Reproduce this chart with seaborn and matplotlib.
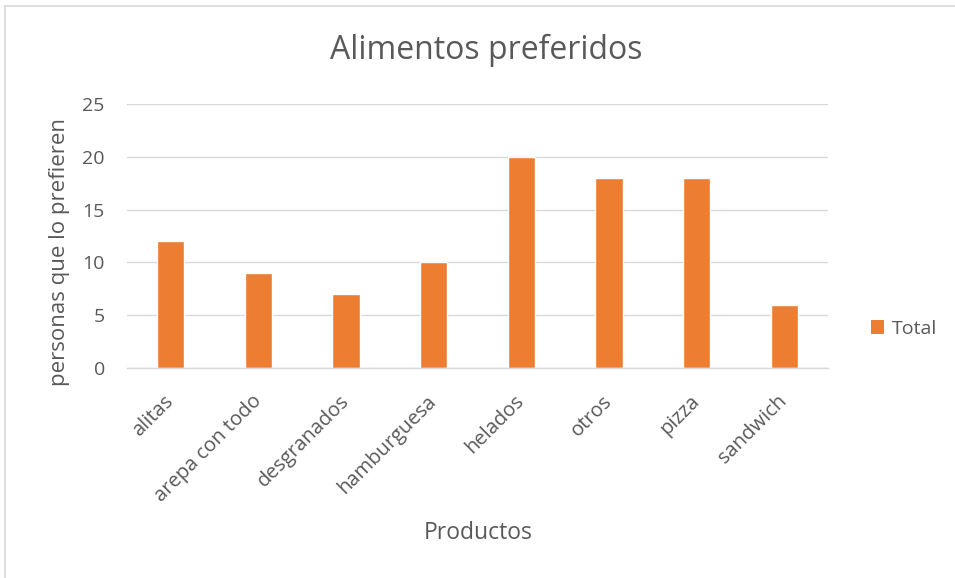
import matplotlib
matplotlib.use("Agg")
import matplotlib.pyplot as plt
import seaborn as sns
import pandas as pd
from matplotlib.patches import Rectangle, Patch

categories = ["alitas", "arepa con todo", "desgranados", "hamburguesa", "helados", "otros", "pizza", "sandwich"]
values = [12, 9, 7, 10, 20, 18, 18, 6]
yticks = [0, 5, 10, 15, 20, 25]

sns.set_theme(style="white")
plt.rcParams['font.family'] = ['Open Sans', 'DejaVu Sans']
txt = "#595959"

df = pd.DataFrame({"Productos": categories, "Total": values})

fig = plt.figure(figsize=(9.55, 5.78), dpi=100)
ax = fig.add_axes([127/955, 1-368/578, (828-127)/955, (368-104)/578])

sns.barplot(data=df, x="Productos", y="Total", color="#ED7D31", width=0.31, ax=ax, saturation=1)

ax.set_ylim(0, 25)
ax.set_yticks(yticks)
ax.set_xlim(-0.5, len(categories)-0.5)
ax.yaxis.grid(True, color="#D9D9D9", linewidth=1)
ax.set_axisbelow(True)
for s in ["top", "right", "left"]:
    ax.spines[s].set_visible(False)
ax.spines["bottom"].set_color("#D9D9D9")
ax.spines["bottom"].set_linewidth(1)
ax.tick_params(axis="both", length=0, colors=txt, labelsize=14)
ax.tick_params(axis="y", pad=16)
ax.set_xticks(range(len(categories)))
ax.set_xticklabels(categories, rotation=45, ha="right", va="center", rotation_mode="anchor",
                   color=txt, fontsize=14.5)
ax.tick_params(axis="x", pad=22)
ax.set_xlabel("")
ax.set_ylabel("")
fig.text(478/955, 1-533/578, "Productos", ha="center", va="center", fontsize=16.5, color=txt)
fig.text(59/955, 1-252/578, "personas que lo prefieren", rotation=90, ha="center", va="center",
         fontsize=16, color=txt)

fig.text(486/955, 1-50/578, "Alimentos preferidos", ha="center", va="center", fontsize=23, color=txt)

handles = [Patch(facecolor="#ED7D31", edgecolor="none", label="Total")]
fig.legend(handles=handles, loc="center left", bbox_to_anchor=(853/955, 1-329/578), frameon=False,
           fontsize=14, labelcolor=txt, handlelength=0.7, handleheight=0.7, handletextpad=0.4)

fig.patches.append(Rectangle((5/955, -0.1), 1.2, 1-6/578+0.1, transform=fig.transFigure,
                             fill=False, edgecolor="#D9D9D9", linewidth=1.2))

fig.savefig("out.png", dpi=100)
